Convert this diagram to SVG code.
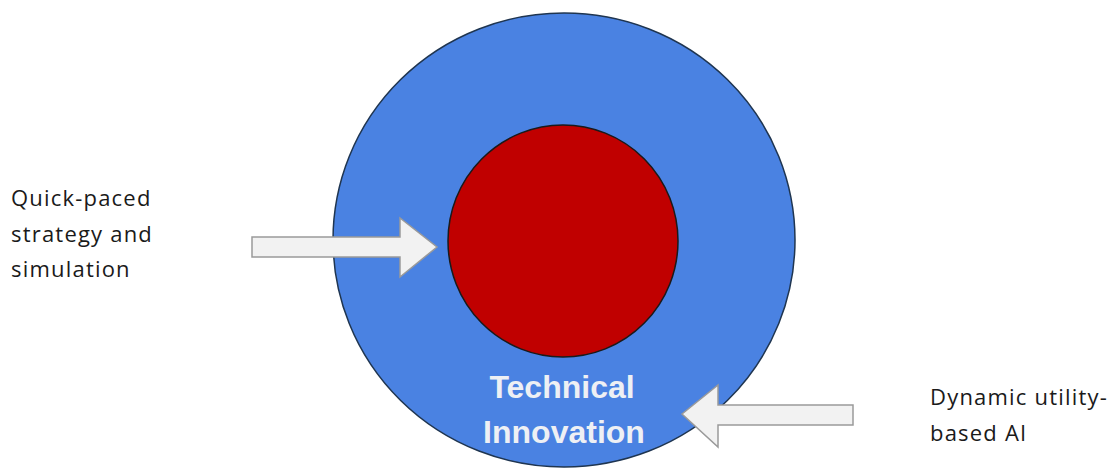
<svg xmlns="http://www.w3.org/2000/svg" width="1107" height="468" viewBox="0 0 1107 468">
<style>
.lbl{font-family:"Open Sans","Liberation Sans",sans-serif;font-size:22px;letter-spacing:1.2px;fill:#1a1a1a}
.inner{font-family:"Liberation Sans",Arial,sans-serif;font-size:32px;font-weight:bold;fill:#eef0f4;text-anchor:middle}
.arrow{fill:#f2f2f2;stroke:#9a9a9a;stroke-width:1.5;stroke-linejoin:miter}
</style>
<rect width="1107" height="468" fill="#ffffff"/>
<g id="outer">
<ellipse cx="564" cy="240" rx="231" ry="227" fill="#4a82e2" stroke="#1f3550" stroke-width="1.5"/>
<text class="inner" x="562" y="398">Technical</text>
<text class="inner" x="564" y="443">Innovation</text>
</g>
<g id="core">
<ellipse cx="563" cy="241" rx="115" ry="116" fill="#c00000" stroke="#1a1a1a" stroke-width="1.5"/>
</g>
<g id="label-left">
<text class="lbl" x="11" y="206">Quick-paced</text>
<text class="lbl" x="11" y="242">strategy and</text>
<text class="lbl" x="11" y="277">simulation</text>
</g>
<g id="label-right">
<text class="lbl" x="930" y="405">Dynamic utility-</text>
<text class="lbl" x="930" y="441">based AI</text>
</g>
<g id="connectors">
<polygon class="arrow" points="252,237 400,237 400,218 437,247 400,277 400,257 252,257"/>
<polygon class="arrow" points="853,405 718,405 718,385 682,414 718,447 718,425 853,425"/>
</g>
</svg>
